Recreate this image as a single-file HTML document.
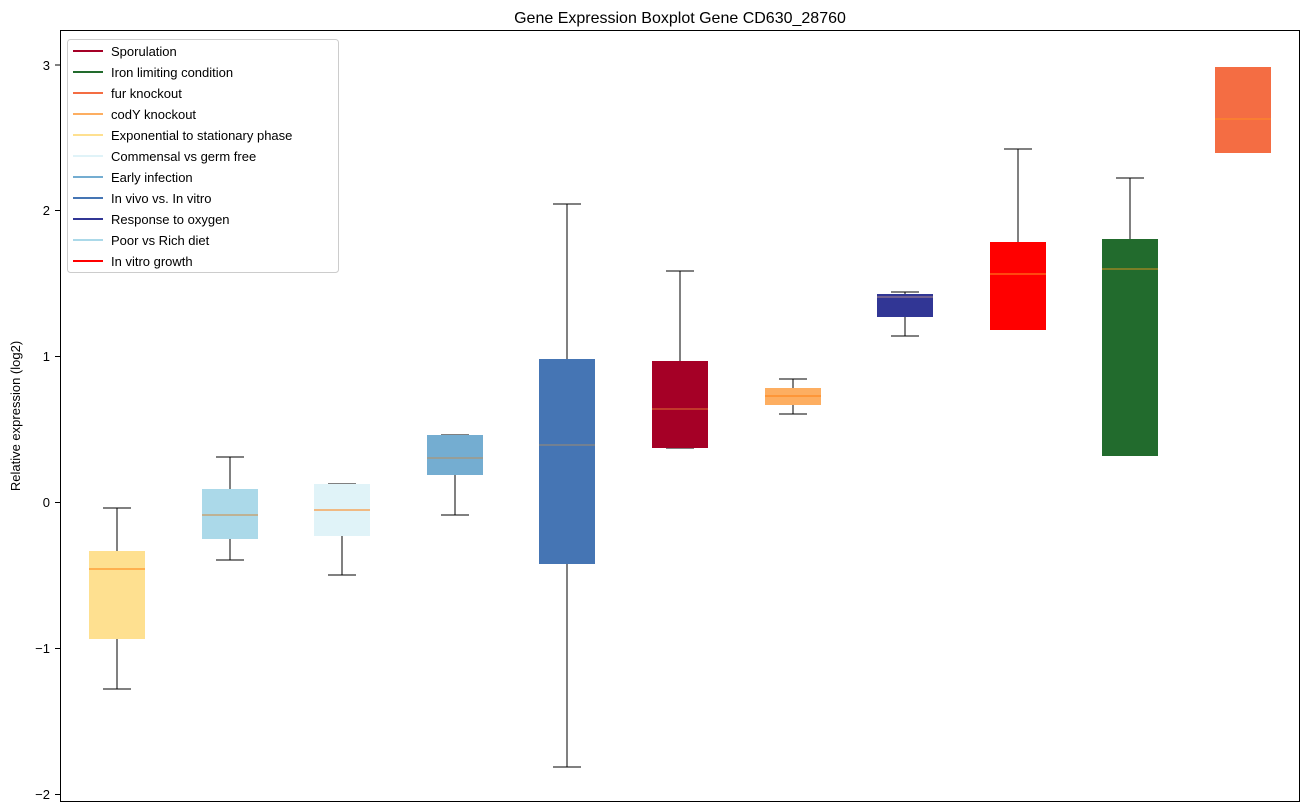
<!DOCTYPE html>
<html><head><meta charset="utf-8"><style>body{margin:0;background:#fff}svg{display:block;font-family:"Liberation Sans","DejaVu Sans",sans-serif}</style></head><body>
<svg width="1309" height="812" viewBox="0 0 1309 812">
<rect width="1309" height="812" fill="#fff"/>
<text x="680" y="23" font-size="16" text-anchor="middle">Gene Expression Boxplot Gene CD630_28760</text>
<text transform="translate(20,416) rotate(-90)" font-size="13" text-anchor="middle">Relative expression (log2)</text>
<g font-size="13" text-anchor="end">
<line x1="55" x2="60" y1="65" y2="65" stroke="#000"/><text x="50" y="70">3</text>
<line x1="55" x2="60" y1="210.5" y2="210.5" stroke="#000"/><text x="50" y="215">2</text>
<line x1="55" x2="60" y1="356.5" y2="356.5" stroke="#000"/><text x="50" y="361">1</text>
<line x1="55" x2="60" y1="502.5" y2="502.5" stroke="#000"/><text x="50" y="507">0</text>
<line x1="55" x2="60" y1="648.5" y2="648.5" stroke="#000"/><text x="50" y="653">−1</text>
<line x1="55" x2="60" y1="794.5" y2="794.5" stroke="#000"/><text x="50" y="799">−2</text>
</g>
<g id="boxes" stroke="#000" stroke-width="1">
<g><line x1="117" x2="117" y1="689" y2="508"/><line x1="103" x2="131" y1="689" y2="689"/><line x1="103" x2="131" y1="508" y2="508"/><rect x="89" y="551" width="56" height="88" fill="#FEE090" stroke="none"/><line x1="89" x2="145" y1="569" y2="569" stroke="#ff7f0e"/></g>
<g><line x1="230" x2="230" y1="560" y2="457"/><line x1="216" x2="244" y1="560" y2="560"/><line x1="216" x2="244" y1="457" y2="457"/><rect x="202" y="489" width="56" height="50" fill="#ABD9E9" stroke="none"/><line x1="202" x2="258" y1="515" y2="515" stroke="#d08a40"/></g>
<g><line x1="342" x2="342" y1="575" y2="484"/><line x1="328" x2="356" y1="575" y2="575"/><line x1="328" x2="356" y1="484" y2="484"/><rect x="314" y="484" width="56" height="52" fill="#E0F3F8" stroke="none"/><line x1="314" x2="370" y1="510" y2="510" stroke="#ff7f0e"/></g>
<g><line x1="455" x2="455" y1="515" y2="435"/><line x1="441" x2="469" y1="515" y2="515"/><line x1="441" x2="469" y1="435" y2="435"/><rect x="427" y="435" width="56" height="40" fill="#74ADD1" stroke="none"/><line x1="427" x2="483" y1="458" y2="458" stroke="#b89060"/></g>
<g><line x1="567" x2="567" y1="767" y2="204"/><line x1="553" x2="581" y1="767" y2="767"/><line x1="553" x2="581" y1="204" y2="204"/><rect x="539" y="359" width="56" height="205" fill="#4575B4" stroke="none"/><line x1="539" x2="595" y1="445" y2="445" stroke="#a08a70"/></g>
<g><line x1="680" x2="680" y1="448" y2="271"/><line x1="666" x2="694" y1="448" y2="448"/><line x1="666" x2="694" y1="271" y2="271"/><rect x="652" y="361" width="56" height="87" fill="#A50026" stroke="none"/><line x1="652" x2="708" y1="409" y2="409" stroke="#e07030"/></g>
<g><line x1="793" x2="793" y1="414" y2="379"/><line x1="779" x2="807" y1="414" y2="414"/><line x1="779" x2="807" y1="379" y2="379"/><rect x="765" y="388" width="56" height="17" fill="#FDAE61" stroke="none"/><line x1="765" x2="821" y1="396" y2="396" stroke="#ff7f0e"/></g>
<g><line x1="905" x2="905" y1="336" y2="292"/><line x1="891" x2="919" y1="336" y2="336"/><line x1="891" x2="919" y1="292" y2="292"/><rect x="877" y="294" width="56" height="23" fill="#313695" stroke="none"/><line x1="877" x2="933" y1="297" y2="297" stroke="#b08a90"/></g>
<g><line x1="1018" x2="1018" y1="330" y2="149"/><line x1="1004" x2="1032" y1="149" y2="149"/><rect x="990" y="242" width="56" height="88" fill="#FF0000" stroke="none"/><line x1="990" x2="1046" y1="274" y2="274" stroke="#ff9020"/></g>
<g><line x1="1130" x2="1130" y1="456" y2="178"/><line x1="1116" x2="1144" y1="178" y2="178"/><rect x="1102" y="239" width="56" height="217" fill="#226B2D" stroke="none"/><line x1="1102" x2="1158" y1="269" y2="269" stroke="#d09020"/></g>
<g><rect x="1215" y="67" width="56" height="86" fill="#F46D43" stroke="none"/><line x1="1215" x2="1271" y1="119" y2="119" stroke="#ff9020"/></g>
</g>
<rect x="60.5" y="30.5" width="1239" height="771" fill="none" stroke="#000"/>
<rect x="67.5" y="39.5" width="271" height="233" rx="3" fill="#fff" fill-opacity="0.85" stroke="#ccc"/>
<g font-size="13" stroke-width="2">
<line x1="73" x2="103" y1="51" y2="51" stroke="#A50026"/><text x="111" y="56">Sporulation</text>
<line x1="73" x2="103" y1="72" y2="72" stroke="#226B2D"/><text x="111" y="77">Iron limiting condition</text>
<line x1="73" x2="103" y1="93" y2="93" stroke="#F46D43"/><text x="111" y="98">fur knockout</text>
<line x1="73" x2="103" y1="114" y2="114" stroke="#FDAE61"/><text x="111" y="119">codY knockout</text>
<line x1="73" x2="103" y1="135" y2="135" stroke="#FEE090"/><text x="111" y="140">Exponential to stationary phase</text>
<line x1="73" x2="103" y1="156" y2="156" stroke="#E0F3F8"/><text x="111" y="161">Commensal vs germ free</text>
<line x1="73" x2="103" y1="177" y2="177" stroke="#74ADD1"/><text x="111" y="182">Early infection</text>
<line x1="73" x2="103" y1="198" y2="198" stroke="#4575B4"/><text x="111" y="203">In vivo vs. In vitro</text>
<line x1="73" x2="103" y1="219" y2="219" stroke="#313695"/><text x="111" y="224">Response to oxygen</text>
<line x1="73" x2="103" y1="240" y2="240" stroke="#ABD9E9"/><text x="111" y="245">Poor vs Rich diet</text>
<line x1="73" x2="103" y1="261" y2="261" stroke="#FF0000"/><text x="111" y="266">In vitro growth</text>
</g>
</svg>
</body></html>
